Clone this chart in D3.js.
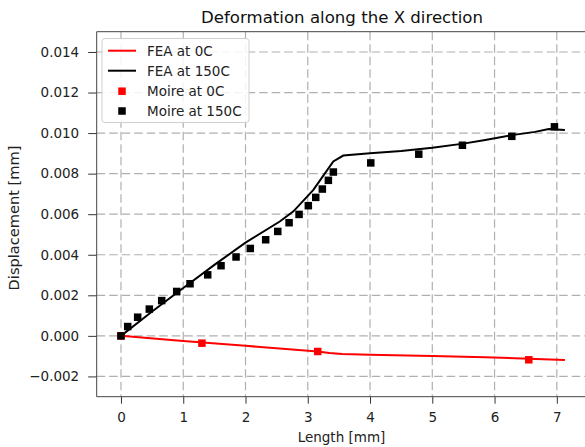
<!DOCTYPE html>
<html><head><meta charset="utf-8">
<script src="https://cdn.jsdelivr.net/npm/d3@7"></script>
<style>body{margin:0;background:#fff}svg{display:block;font-family:"DejaVu Sans",sans-serif}</style>
</head><body><svg id="c" width="585" height="447"></svg>
<script>
const feaX = [0, 0.5, 1, 1.5, 2, 2.55, 2.77, 3.09, 3.25, 3.41, 3.57, 4, 4.5, 5, 5.5, 5.85, 6.28, 6.65, 6.87, 7.13];
const fea150 = [0, 0.00120, 0.00236, 0.00350, 0.00460, 0.00564, 0.00614, 0.0072, 0.0079, 0.0086, 0.00889, 0.00900, 0.00912, 0.00928, 0.00948, 0.00966, 0.00990, 0.01006, 0.0102, 0.01015];
const fea0X = [0, 1, 2, 3.16, 3.35, 3.55, 4, 5, 5.85, 6.55, 7.13];
const fea0 = [0, -0.00025, -0.00049, -0.00077, -0.00084, -0.00089, -0.00093, -0.00099, -0.00105, -0.00113, -0.00119];
const moire0X = [0, 1.30, 3.16, 6.55];
const moire0 = [0, -0.00036, -0.00077, -0.00118];
const moire150X = [0, 0.108, 0.268, 0.455, 0.654, 0.895, 1.109, 1.393, 1.607, 1.848, 2.077, 2.324, 2.518, 2.70, 2.86, 3.009, 3.128, 3.234, 3.331, 3.411, 4.012, 4.783, 5.484, 6.277, 6.962];
const moire150 = [0, 0.00046, 0.00092, 0.00132, 0.00174, 0.00219, 0.00257, 0.00301, 0.00346, 0.00389, 0.00431, 0.00474, 0.00515, 0.00558, 0.00599, 0.00642, 0.00683, 0.00724, 0.00767, 0.00808, 0.00853, 0.00896, 0.00940, 0.00984, 0.01031];
const xTicks = [0, 1, 2, 3, 4, 5, 6, 7];
const yTicks = [-0.002, 0, 0.002, 0.004, 0.006, 0.008, 0.010, 0.012, 0.014];
const legendLabels = ["FEA at 0C", "FEA at 150C", "Moire at 0C", "Moire at 150C"];

const svg = d3.select("#c");
const L = 96.7, R = 586.7, T = 31.7, B = 396.7;
const x = d3.scaleLinear().domain([-0.39, 7.48]).range([L, R]);
const y = d3.scaleLinear().domain([-0.003, 0.015]).range([B, T]);

// grid
const grid = svg.append("g").attr("stroke", "#b0b0b0").attr("stroke-width", 1.2).attr("stroke-dasharray", "8.5,4");
xTicks.forEach(t => grid.append("line").attr("x1", x(t)).attr("x2", x(t)).attr("y1", T).attr("y2", B));
yTicks.forEach(t => grid.append("line").attr("x1", L).attr("x2", R).attr("y1", y(t)).attr("y2", y(t)));

// axes
const xAxis = svg.append("g").attr("transform", `translate(0,${B})`)
  .call(d3.axisBottom(x).tickValues(xTicks).tickFormat(d3.format("d")).tickSize(7).tickPadding(8.5));
const yAxis = svg.append("g").attr("transform", `translate(${L},0)`)
  .call(d3.axisLeft(y).tickValues(yTicks).tickFormat(d => d < 0 ? "\u2212" + d3.format(".3f")(-d) : d3.format(".3f")(d)).tickSize(8.5).tickPadding(9));
[xAxis, yAxis].forEach(a => {
  a.select(".domain").remove();
  a.selectAll("line").attr("stroke", "#333");
  a.selectAll("text").attr("font-size", 13.5).attr("fill", "#222").attr("font-family", "DejaVu Sans");
});
svg.append("line").attr("x1", L).attr("x2", R).attr("y1", T).attr("y2", T).attr("stroke", "#444").attr("stroke-width", 1);
svg.append("line").attr("x1", L).attr("x2", R).attr("y1", B).attr("y2", B).attr("stroke", "#444").attr("stroke-width", 1);
svg.append("line").attr("x1", L).attr("x2", L).attr("y1", T).attr("y2", B).attr("stroke", "#444").attr("stroke-width", 1);

// lines
const line = d3.line().x(d => x(d[0])).y(d => y(d[1]));
svg.append("path").datum(fea0X.map((v, i) => [v, fea0[i]])).attr("d", line)
  .attr("fill", "none").attr("stroke", "#ff0000").attr("stroke-width", 2);
svg.append("path").datum(feaX.map((v, i) => [v, fea150[i]])).attr("d", line)
  .attr("fill", "none").attr("stroke", "#000").attr("stroke-width", 2);

const ms = 7.5;
svg.append("g").selectAll("rect").data(moire0X.map((v, i) => [v, moire0[i]])).join("rect")
  .attr("x", d => x(d[0]) - ms / 2).attr("y", d => y(d[1]) - ms / 2).attr("width", ms).attr("height", ms).attr("fill", "#ff0000");
svg.append("g").selectAll("rect").data(moire150X.map((v, i) => [v, moire150[i]])).join("rect")
  .attr("x", d => x(d[0]) - ms / 2).attr("y", d => y(d[1]) - ms / 2).attr("width", ms).attr("height", ms).attr("fill", "#000");

// title & labels
svg.append("text").attr("x", 342).attr("y", 23).attr("text-anchor", "middle").attr("font-size", 16.6).attr("fill", "#111").text("Deformation along the X direction");
svg.append("text").attr("x", 341.5).attr("y", 442).attr("text-anchor", "middle").attr("font-size", 13.5).attr("fill", "#222").text("Length [mm]");
svg.append("text").attr("transform", `translate(18.5,218) rotate(-90)`).attr("text-anchor", "middle").attr("font-size", 14.6).attr("fill", "#222").text("Displacement [mm]");

// legend
const lg = svg.append("g");
lg.append("rect").attr("x", 102).attr("y", 38.5).attr("width", 147).attr("height", 84).attr("rx", 3)
  .attr("fill", "#fff").attr("fill-opacity", 0.85).attr("stroke", "#d0d0d0").attr("stroke-width", 1);
const rows = [50.7, 70.7, 91.2, 111];
const colors = ["#ff0000", "#000", "#ff0000", "#000"];
legendLabels.forEach((lab, i) => {
  if (i < 2) lg.append("line").attr("x1", 108).attr("x2", 136).attr("y1", rows[i]).attr("y2", rows[i]).attr("stroke", colors[i]).attr("stroke-width", 2);
  else lg.append("rect").attr("x", 122 - ms / 2).attr("y", rows[i] - ms / 2).attr("width", ms).attr("height", ms).attr("fill", colors[i]);
  lg.append("text").attr("x", 147).attr("y", rows[i] + 5).attr("font-size", 13.5).attr("fill", "#222").text(lab);
});
</script></body></html>
